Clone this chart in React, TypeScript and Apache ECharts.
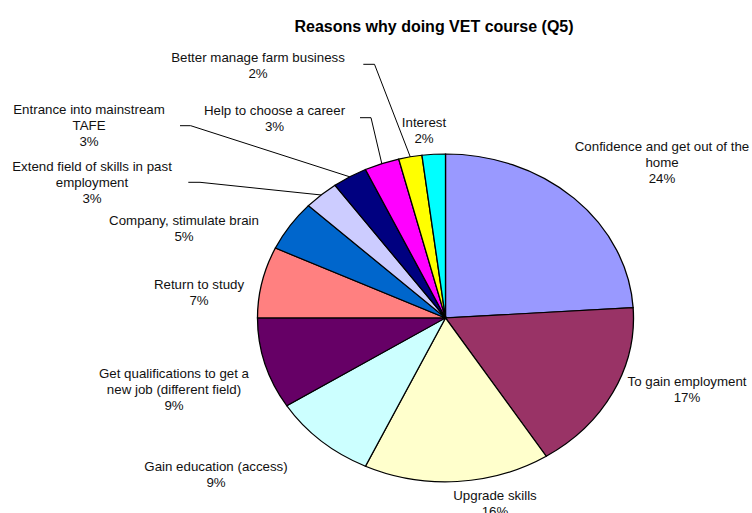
import React, { useEffect, useRef } from "react";
import * as echarts from "echarts";

// ---- data ----
const CATEGORIES: string[] = [
  "Confidence and get out of the\nhome",
  "To gain employment",
  "Upgrade skills",
  "Gain education (access)",
  "Get qualifications to get a\nnew job (different field)",
  "Return to study",
  "Company, stimulate brain",
  "Extend field of skills in past\nemployment",
  "Entrance into mainstream\nTAFE",
  "Help to choose a career",
  "Better manage farm business",
  "Interest",
];
const VALUES: number[] = [24, 17, 16, 9, 9, 7, 5, 3, 3, 3, 2, 2];
const TITLE = "Reasons why doing VET course (Q5)";

// ---- styles / layout ----
const COLORS = [
  "#9999FF", "#993366", "#FFFFCC", "#CCFFFF", "#660066", "#FF8080",
  "#0066CC", "#CCCCFF", "#000080", "#FF00FF", "#FFFF00", "#00FFFF",
];
const CX = 445.5;
const CY = 318;
const RX = 188;
const RY = 164;
const FONT = "'Liberation Sans', Arial, sans-serif";
const LABEL_POS: [number, number][] = [
  [662, 138.5],
  [687, 373.5],
  [495, 487.5],
  [216, 458],
  [174, 365],
  [199, 276],
  [184, 212],
  [92, 158],
  [89, 101],
  [274.5, 102],
  [258, 49],
  [424, 114],
];
const LEADER_ELBOWS: Record<number, [number, number][]> = {
  7: [[188.3, 182.3], [200, 182.3]],
  8: [[180, 125.7], [190.7, 125.7]],
  9: [[360, 117.7], [371, 117.7]],
  10: [[363.3, 64.3], [374.5, 64.3]],
};

export default function App() {
  const ref = useRef<HTMLDivElement>(null);

  useEffect(() => {
    if (!ref.current) return;
    const chart = echarts.init(ref.current, undefined, { renderer: "svg" });
    const total = VALUES.reduce((a, b) => a + b, 0);
    const cum: number[] = [];
    VALUES.reduce((acc, v, i) => {
      cum[i] = acc;
      return acc + v;
    }, 0);

    chart.setOption({
      animation: false,
      backgroundColor: "#ffffff",
      title: {
        text: TITLE,
        left: 434,
        top: 18,
        padding: 0,
        textAlign: "center",
        textStyle: {
          fontSize: 16,
          fontWeight: "bold",
          fontFamily: FONT,
          color: "#000",
        },
      },
      series: [
        {
          type: "custom",
          coordinateSystem: "none",
          silent: true,
          data: VALUES.map((v, i) => ({ name: CATEGORIES[i], value: v })),
          renderItem: (params: any, api: any) => {
            const i = params.dataIndex;
            const v = api.value(0);
            const a0 = -Math.PI / 2 + (cum[i] / total) * Math.PI * 2;
            const a1 = -Math.PI / 2 + ((cum[i] + v) / total) * Math.PI * 2;
            const mid = (a0 + a1) / 2;
            const children: any[] = [
              {
                type: "sector",
                shape: {
                  cx: CX,
                  cy: CY,
                  r: RX,
                  r0: 0,
                  startAngle: a0,
                  endAngle: a1,
                  clockwise: true,
                },
                originX: CX,
                originY: CY,
                scaleY: RY / RX,
                style: {
                  fill: COLORS[i],
                  stroke: "#000",
                  lineWidth: 1.3,
                  strokeNoScale: true,
                },
              },
              {
                type: "text",
                x: LABEL_POS[i][0],
                y: LABEL_POS[i][1],
                style: {
                  text: `${CATEGORIES[i]}\n${v}%`,
                  align: "center",
                  verticalAlign: "top",
                  fontSize: 13.3,
                  fontFamily: FONT,
                  fill: "#111",
                  lineHeight: 16,
                },
              },
            ];
            const elbows = LEADER_ELBOWS[i];
            if (elbows) {
              const end: [number, number] = [
                CX + RX * Math.cos(mid),
                CY + RY * Math.sin(mid),
              ];
              children.push({
                type: "polyline",
                shape: { points: [...elbows, end] },
                style: { stroke: "#000", lineWidth: 1, fill: "none" },
              });
            }
            return { type: "group", children };
          },
        },
      ],
    });
    return () => chart.dispose();
  }, []);

  return (
    <div
      ref={ref}
      style={{ position: "absolute", left: 0, top: 0, width: 752, height: 513 }}
    />
  );
}
